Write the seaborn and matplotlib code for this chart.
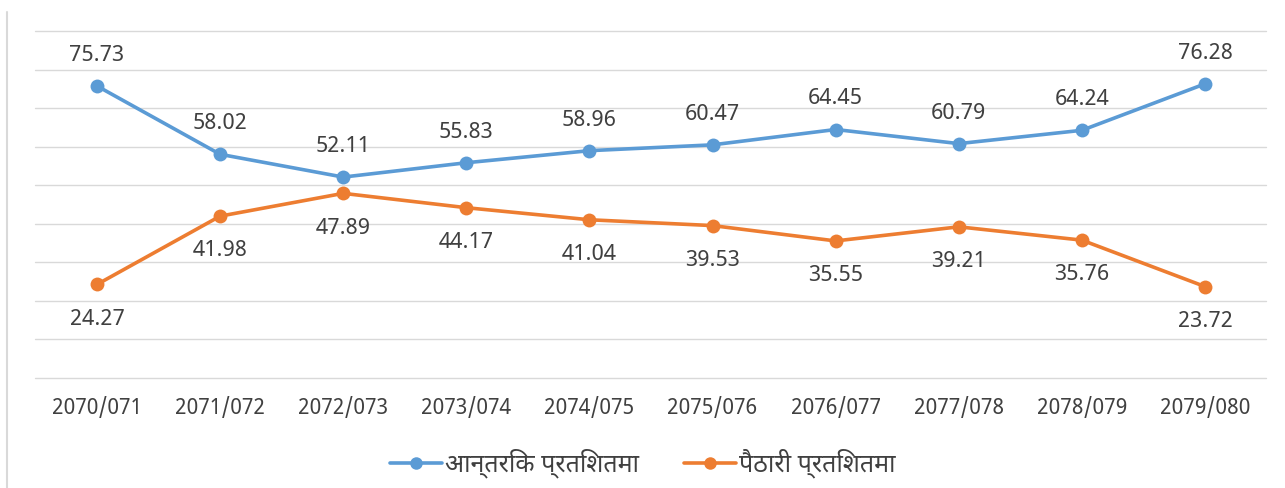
import matplotlib
matplotlib.use("Agg")
import matplotlib.pyplot as plt
from matplotlib.lines import Line2D
import pandas as pd
import seaborn as sns

years = ["2070/071", "2071/072", "2072/073", "2073/074", "2074/075",
         "2075/076", "2076/077", "2077/078", "2078/079", "2079/080"]
internal = [75.73, 58.02, 52.11, 55.83, 58.96, 60.47, 64.45, 60.79, 64.24, 76.28]
import_share = [24.27, 41.98, 47.89, 44.17, 41.04, 39.53, 35.55, 39.21, 35.76, 23.72]
series_names = ["आन्तरिक प्रतिशतमा", "पैठारी प्रतिशतमा"]
colors = ["#5B9BD5", "#ED7D31"]

df = pd.DataFrame({
    "year": years * 2,
    "value": internal + import_share,
    "series": [series_names[0]] * len(years) + [series_names[1]] * len(years),
})
df["pos"] = df["year"].map({y: i for i, y in enumerate(years)})

sns.set_style("white")
plt.rcParams["font.family"] = ["Noto Sans Devanagari", "Noto Sans", "DejaVu Sans"]
text_color = "#404040"

fig = plt.figure(figsize=(12.85, 4.88), dpi=100)
ax = fig.add_axes([0.0276, 0.2254, 0.9580, 0.7111])

sns.lineplot(data=df, x="pos", y="value", hue="series", palette=colors,
             marker="o", markersize=10, markeredgewidth=0, linewidth=2.6,
             legend=False, ax=ax)

ax.set_xlim(-0.5, len(years) - 0.5)
ax.set_ylim(0, 90)
ax.set_yticks(range(0, 91, 10))
ax.yaxis.grid(True, color="#d9d9d9", linewidth=1)
for gl in ax.get_ygridlines():
    gl.set_clip_on(False)
ax.set_yticklabels([])
ax.tick_params(axis="y", length=0)
ax.set_xticks(range(len(years)))
ax.set_xticklabels(years, fontsize=15.2, color=text_color)
ax.tick_params(axis="x", length=0, pad=14)
ax.set_xlabel("")
ax.set_ylabel("")
for s in ax.spines.values():
    s.set_visible(False)

# data labels: blue above, orange below
for i, v in enumerate(internal):
    ax.annotate(f"{v:.2f}", (i, v), xytext=(0, 22), textcoords="offset points",
                ha="center", va="center", fontsize=16, color=text_color)
for i, v in enumerate(import_share):
    ax.annotate(f"{v:.2f}", (i, v), xytext=(0, -25), textcoords="offset points",
                ha="center", va="center", fontsize=16, color=text_color)

handles = [Line2D([0], [0], color=c, marker="o", markersize=9, linewidth=2.6,
                  markeredgewidth=0) for c in colors]
fig.legend(handles, series_names, loc="center", bbox_to_anchor=(0.5, 0.05),
           ncol=2, frameon=False, fontsize=18, handlelength=2.1,
           handletextpad=0.1, columnspacing=1.8, labelcolor=text_color)

# chart border line at the left
fig.add_artist(Line2D([0.0055, 0.0055], [0, 0.975], color="#d9d9d9", linewidth=1.5,
                      transform=fig.transFigure))

fig.savefig("out.png", dpi=100)
